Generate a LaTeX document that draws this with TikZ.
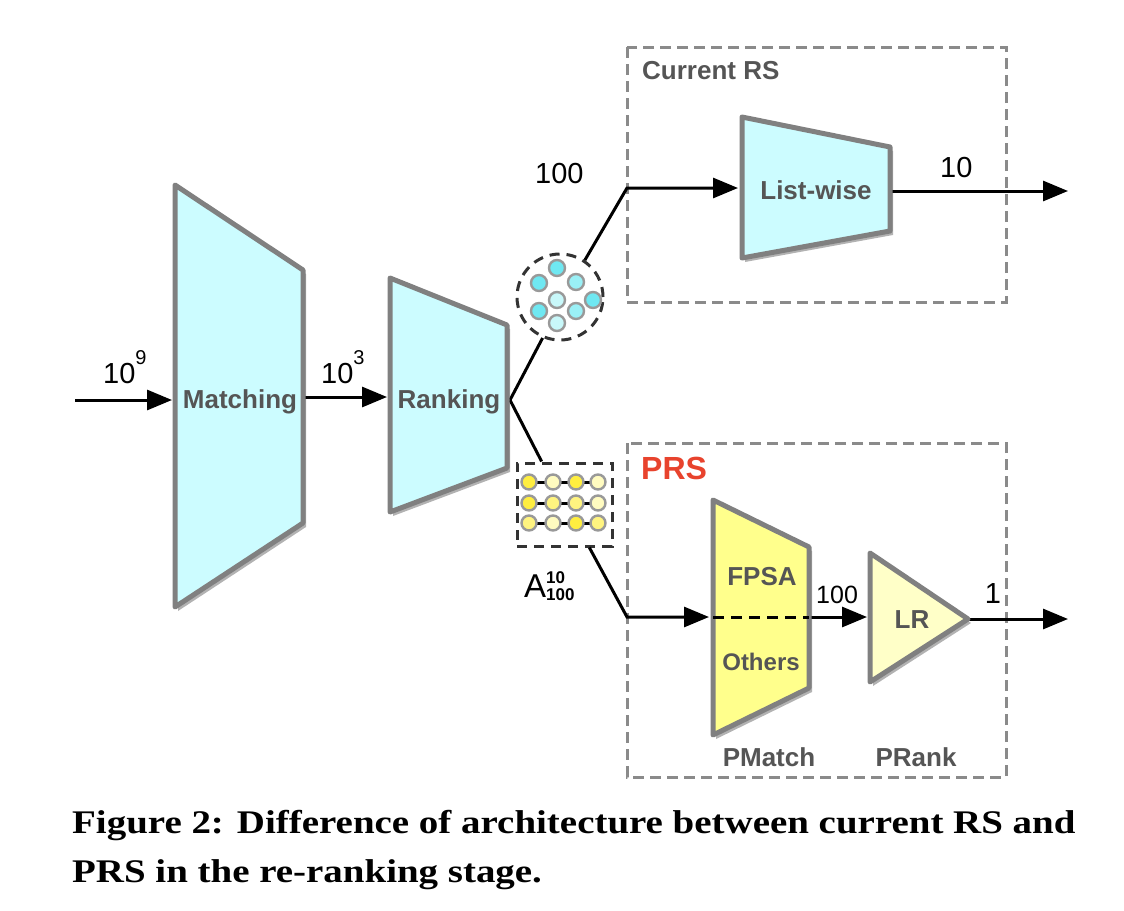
\documentclass[tikz,border=0pt]{standalone}
\usepackage{fontspec}
\setmainfont{Liberation Serif}
\newfontfamily\labelfont{Liberation Sans}
\usetikzlibrary{arrows.meta,shadows}
\definecolor{boxcyan}{HTML}{CCFCFF}
\definecolor{boxyellow}{HTML}{FFFF8C}
\definecolor{paleyellow}{HTML}{FFFFC8}
\definecolor{blockgray}{HTML}{808080}
\definecolor{framegray}{HTML}{8A8A8A}
\definecolor{tagtext}{HTML}{555555}
\definecolor{prsred}{HTML}{E8432D}
\definecolor{dotcyan}{HTML}{6FE8F2}
\definecolor{dotcyanmid}{HTML}{9AF0F6}
\definecolor{dotcyanpale}{HTML}{C8F8FA}
\definecolor{dotyellow}{HTML}{FFEE40}
\definecolor{dotyellowmid}{HTML}{FFF480}
\definecolor{dotyellowpale}{HTML}{FFFBC0}
\tikzset{
  block/.style={draw=blockgray,line width=5pt,line join=round,
    drop shadow={shadow xshift=3pt,shadow yshift=-4pt,opacity=.3,fill=black}},
  flow/.style={line width=3pt,-{Triangle[length=25pt,width=20pt]}},
  wire/.style={line width=3pt},
  frame/.style={draw=framegray,line width=3pt,dash pattern=on 11pt off 6pt},
  tag/.style={inner sep=0pt,text=tagtext,font=\labelfont\bfseries\fontsize{26}{30}\selectfont},
  num/.style={inner sep=0pt,font=\labelfont\fontsize{29}{32}\selectfont},
  dot/.style={draw=black!40,line width=2.4pt},
}
\begin{document}
\begin{tikzpicture}[x=1pt,y=-1pt]
\useasboundingbox[fill=white] (0,0) rectangle (1124,910);

% frames
\draw[frame] (627,47) rectangle (1006,302);
\draw[frame] (627,443) rectangle (1006,777);
\node[tag,anchor=base west] (current) at (642,79) {Current RS};
\node[tag,anchor=base west,text=prsred,font=\labelfont\bfseries\fontsize{32}{34}\selectfont] (prs) at (641,479) {PRS};

% points on the blocks
\coordinate (in) at (75,400);
\coordinate (mw) at (175,400);
\coordinate (me) at (303,397);
\coordinate (rw) at (390,397);
\coordinate (fork) at (510,400);
\coordinate (c1) at (627,188);
\coordinate (lw) at (742,188);
\coordinate (le) at (890,191);
\coordinate (out1) at (1068,191);
\coordinate (c2) at (627,617);
\coordinate (fw) at (713,617);
\coordinate (fe) at (809,617);
\coordinate (lrw) at (870,617);
\coordinate (lrtip) at (968,619);
\coordinate (out2) at (1068,619);

% candidate sets
\node[circle,minimum size=86pt,inner sep=0pt,draw=black!80,line width=3pt,
  dash pattern=on 10pt off 7pt] (pool) at (560,297) {};
\node[rectangle,minimum width=95pt,minimum height=83pt,inner sep=0pt,draw=black!80,
  line width=3pt,dash pattern=on 10pt off 7pt] (perm) at (564.5,504.5) {};
\foreach \x/\y/\c in {557/268/dotcyan,539/283/dotcyan,576/282/dotcyanmid,
  557/300/dotcyanpale,593/300/dotcyan,539/311/dotcyan,576/311/dotcyanmid,557/323/dotcyanpale}
  \draw[dot][fill=\c] (\x,\y) circle[radius=8];
\foreach \y in {482,503,523}
  \draw[wire] (529,\y) -- (598,\y);
\foreach \x/\y/\c in {529/482/dotyellow,553/482/dotyellowpale,576/482/dotyellow,598/482/dotyellowpale,
  529/503/dotyellow,553/503/dotyellowmid,576/503/dotyellowmid,598/503/dotyellowpale,
  529/523/dotyellowmid,553/523/dotyellowpale,576/523/dotyellow,598/523/dotyellowmid}
  \draw[dot][fill=\c] (\x,\y) circle[radius=7.5];

% connectors
\draw[flow] (in) -- ([xshift=-3pt]mw);
\draw[flow] (me) -- ([xshift=-3pt]rw);
\draw[wire] (fork) -- (pool.247);
\draw[wire] (fork) -- (perm.118);
\draw[flow] (pool.56) -- (c1) -- ([xshift=-4pt]lw);
\draw[flow] (perm.300) -- (c2) -- ([xshift=-4pt]fw);
\draw[flow] (le) -- (out1);
\draw[flow] (fe) -- ([xshift=-3pt]lrw);
\draw[flow] (lrtip) -- (out2);

% blocks
\draw[block][fill=boxcyan] (175,185) -- (303,270) -- (303,523) -- (175,607) -- cycle;
\draw[block][fill=boxcyan] (390,278) -- (507,325) -- (507,468) -- (390,512) -- cycle;
\draw[block][fill=boxcyan] (742,117) -- (890,147) -- (890,231) -- (742,258) -- cycle;
\draw[block][fill=boxyellow] (713,500) -- (809,547) -- (809,688) -- (713,735) -- cycle;
\draw[block][fill=paleyellow] (870,553) -- (lrtip) -- (870,682) -- cycle;
\draw[line width=3pt,dash pattern=on 11pt off 7pt] (fw) -- (fe);

% block labels
\node[tag,anchor=base] (matching) at (240,408) {Matching};
\node[tag,anchor=base] (ranking) at (449,408) {Ranking};
\node[tag,anchor=base] (listwise) at (816,199) {List-wise};
\node[tag,anchor=base] (fpsa) at (762,585) {FPSA};
\node[tag,anchor=base,font=\labelfont\bfseries\fontsize{24}{28}\selectfont] (others) at (761,670) {Others};
\node[tag,anchor=base] (lr) at (912,628) {LR};
\node[tag,anchor=base] (pmatch) at (769,766) {PMatch};
\node[tag,anchor=base] (prank) at (916,766) {PRank};

% numbers
\node[num,anchor=base west] (n9) at (103,383) {10\raisebox{19pt}{\fontsize{20}{20}\selectfont 9}};
\node[num,anchor=base west] (n3) at (321,383) {10\raisebox{19pt}{\fontsize{20}{20}\selectfont 3}};
\node[num,anchor=base west] (n100) at (535,183) {100};
\node[num,anchor=base west] (n10) at (940,177) {10};
\node[num,anchor=base west,font=\labelfont\fontsize{25}{28}\selectfont] (n100b) at (816,603) {100};
\node[num,anchor=base] (n1) at (993,603) {1};
\node[num,anchor=base west,font=\labelfont\fontsize{33}{36}\selectfont] (perms) at (524,597)
  {A\makebox[0pt][l]{\raisebox{14pt}{\bfseries\fontsize{17}{17}\selectfont 10}}%
   \raisebox{-3pt}{\bfseries\fontsize{17}{17}\selectfont 100}};

% caption
\node[anchor=base west,inner sep=0pt,font=\bfseries\fontsize{33}{36}\selectfont] (cap1) at (72,833)
  {\scalebox{1.18}[1]{Figure 2: Difference of architecture between current RS and}};
\node[anchor=base west,inner sep=0pt,font=\bfseries\fontsize{33}{36}\selectfont] (cap2) at (72,882)
  {\scalebox{1.18}[1]{PRS in the re-ranking stage.}};
\end{tikzpicture}
\end{document}
